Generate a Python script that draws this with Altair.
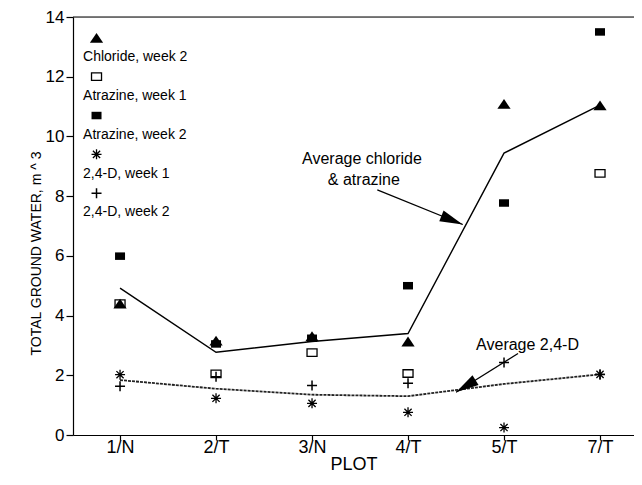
import altair as alt
import pandas as pd

# ---------------- data ----------------
plots = ["1/N", "2/T", "3/N", "4/T", "5/T", "7/T"]
series_names = ["Chloride, week 2", "Atrazine, week 1", "Atrazine, week 2",
                "2,4-D, week 1", "2,4-D, week 2"]
chloride_w2 = [4.40, 3.16, 3.31, 3.13, 11.09, 11.04]
atrazine_w1 = [4.40, 2.05, 2.76, 2.06, None, 8.76]
atrazine_w2 = [5.99, 3.05, 3.24, 5.00, 7.77, 13.50]
d24_w1 = [2.02, 1.23, 1.06, 0.76, 0.25, 2.03]
d24_w2 = [1.63, 1.95, 1.66, 1.73, 2.43, 2.03]
avg_chloride_atrazine = [4.92, 2.77, 3.13, 3.40, 9.44, 11.05]
avg_24d = [1.84, 1.55, 1.35, 1.30, 1.71, 2.03]

annotation_lines = ["Average chloride", "& atrazine", "Average 2,4-D"]

# ---------------- styling / layout ----------------
FONT = "Liberation Sans"
TRI = "M0,-0.75L1,0.75L-1,0.75Z"
RECT = "M-1,-0.75L1,-0.75L1,0.75L-1,0.75Z"
AST = "M-1,0L1,0M0,-1L0,1M-0.72,-0.72L0.72,0.72M-0.72,0.72L0.72,-0.72"
PLUS = "M-1,0L1,0M0,-1L0,1"
ARROW = "M0,0L-2,-0.5L-2,0.5Z"

series_cols = [chloride_w2, atrazine_w1, atrazine_w2, d24_w1, d24_w2]
series_style = [
    dict(shape=TRI, size=175, filled=True, strokeWidth=0),
    dict(shape=RECT, size=100, filled=False, strokeWidth=1.3),
    dict(shape=RECT, size=100, filled=True, strokeWidth=0),
    dict(shape=AST, size=100, filled=False, strokeWidth=1.3),
    dict(shape=PLUS, size=100, filled=False, strokeWidth=1.5),
]
draw_order = [1, 2, 0, 3, 4]

label_expr = "[" + ",".join("'%s'" % p for p in plots) + "][datum.value]"
Y_TITLE = "TOTAL GROUND WATER, m ^ 3"

x_axis = alt.Axis(values=list(range(len(plots))), labelExpr=label_expr, title="PLOT",
                  grid=False, tickSize=5, labelPadding=-2, labelFontSize=18,
                  titleFontSize=18, titlePadding=-1, titleFontWeight="normal",
                  domainColor="black", tickColor="black", labelColor="black",
                  titleColor="black", domainWidth=1.2, tickWidth=1.2,
                  labelFont=FONT, titleFont=FONT)
y_axis = alt.Axis(values=list(range(0, 15, 2)), title=Y_TITLE,
                  grid=False, tickSize=7, labelPadding=2, labelFontSize=17,
                  titleFontSize=14, titleFontWeight="normal", titleAngle=270,
                  titleX=-37, titleY=236, titleAlign="center", titleBaseline="middle",
                  domainColor="black", tickColor="black", labelColor="black",
                  titleColor="black", domainWidth=1.2, tickWidth=1.2,
                  labelFont=FONT, titleFont=FONT)
x_scale = alt.Scale(domain=[-0.49, 5.354], nice=False, zero=False)
y_scale = alt.Scale(domain=[0, 14], nice=False, zero=True)


def X(field):
    return alt.X(field + ":Q", scale=x_scale, axis=x_axis, title="PLOT")


def Y(field):
    return alt.Y(field + ":Q", scale=y_scale, axis=y_axis, title=Y_TITLE)


base = pd.DataFrame({"plot": plots, "u": list(range(len(plots))),
                     "avg_ca": avg_chloride_atrazine, "avg_d": avg_24d})

layers = []
# top frame line
layers.append(alt.Chart(pd.DataFrame({"v": [14]})).mark_rule(color="black", strokeWidth=1.2)
              .encode(y=Y("v")))
# average lines
layers.append(alt.Chart(base).mark_line(color="black", strokeWidth=1.4)
              .encode(x=X("u"), y=Y("avg_ca")))
layers.append(alt.Chart(base).mark_line(color="#222222", strokeWidth=1.8, strokeDash=[3, 1])
              .encode(x=X("u"), y=Y("avg_d")))

# data points
for i in draw_order:
    d = pd.DataFrame({"u": list(range(len(plots))), "v": series_cols[i]}).dropna()
    st = series_style[i]
    layers.append(alt.Chart(d).mark_point(color="black", opacity=1, **st)
                  .encode(x=X("u"), y=Y("v")))

# in-plot legend (symbol above its label)
leg_top, leg_step, leg_label_off = 13.3, 1.3, 0.78
leg_sym_u, leg_text_u = -0.245, -0.385
for i, name in enumerate(series_names):
    yv = leg_top - i * leg_step
    st = series_style[i]
    layers.append(alt.Chart(pd.DataFrame({"u": [leg_sym_u], "v": [yv]}))
                  .mark_point(color="black", opacity=1, **st)
                  .encode(x=X("u"), y=Y("v")))
    layers.append(alt.Chart(pd.DataFrame({"u": [leg_text_u], "v": [yv - leg_label_off], "t": [name]}))
                  .mark_text(align="left", baseline="alphabetic", font=FONT, fontSize=14, color="black")
                  .encode(x=X("u"), y=Y("v"), text="t:N"))

# annotations
ann_u = [2.52, 2.54, 4.245]
ann_v = [9.08, 8.38, 2.86]
layers.append(alt.Chart(pd.DataFrame({"u": ann_u, "v": ann_v, "t": annotation_lines}))
              .mark_text(align="center", baseline="alphabetic", font=FONT, fontSize=16, color="black")
              .encode(x=X("u"), y=Y("v"), text="t:N"))

arrows = pd.DataFrame({"u": [2.68, 4.146], "v": [8.21, 2.73],
                       "u2": [3.57, 3.50], "v2": [7.05, 1.43]})
layers.append(alt.Chart(arrows).mark_rule(color="black", strokeWidth=1.3)
              .encode(x=X("u"), y=Y("v"), x2="u2:Q", y2="v2:Q"))
for k, ang in enumerate([22, 148]):
    layers.append(alt.Chart(arrows.iloc[[k]]).mark_point(shape=ARROW, size=529, filled=True,
                                                          color="black", opacity=1, strokeWidth=0,
                                                          angle=ang)
                  .encode(x=X("u2"), y=Y("v2")))

chart = alt.layer(*layers).properties(
    width=561, height=418,
    autosize=alt.AutoSizeParams(type="none"),
    padding={"left": 65, "top": 9, "right": 0, "bottom": 45},
).configure_view(stroke=None).configure(background="white")

chart.save("out.html", embed_options={"renderer": "svg", "actions": False})
